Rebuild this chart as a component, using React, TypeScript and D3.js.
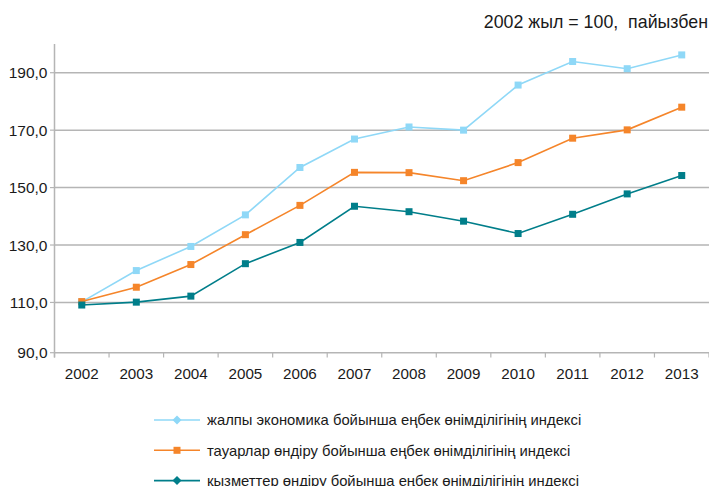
import React from "react";
import * as d3 from "d3";

const years = ["2002","2003","2004","2005","2006","2007","2008","2009","2010","2011","2012","2013"];
const economy = [110.2,121.1,129.5,140.5,157.0,166.9,171.1,170.0,185.7,193.9,191.4,196.2];
const goods = [110.3,115.3,123.2,133.6,143.8,155.3,155.2,152.4,158.7,167.2,170.1,178.0];
const services = [109.1,110.1,112.2,123.5,130.9,143.5,141.6,138.3,134.0,140.7,147.8,154.2];
const yTickValues = [92.5,110,130,150,170,190];
const yTickLabels = ["90,0","110,0","130,0","150,0","170,0","190,0"];
const seriesNames = [
  "жалпы экономика бойынша еңбек өнімділігінің индексі",
  "тауарлар өндіру бойынша еңбек өнімділігінің индексі",
  "қызметтер өндіру бойынша еңбек өнімділігінің индексі",
];
const subtitle = "2002 жыл = 100,\u00A0 пайызбен";

const W = 709, H = 486;
const FONT = "'Liberation Sans', Arial, sans-serif";

export default function App() {
  const x = d3.scaleBand<string>().domain(years).range([54.5, 709]);
  const y = d3.scaleLinear().domain([92.5, 200]).range([352.7, 44]);
  const cx = (yr: string) => (x(yr) as number) + x.bandwidth() / 2;
  const line = d3.line<number>().x((_, i) => cx(years[i])).y(d => y(d));
  const series = [
    { data: economy, color: "#8fd8f7", marker: "diamond" },
    { data: goods, color: "#f5852a", marker: "square" },
    { data: services, color: "#007e8a", marker: "diamond" },
  ];
  const ms = 7;
  const boundaries = years.map(yr => x(yr) as number).concat([709]);
  return (
    <svg width={W} height={H} style={{ position: "absolute", left: 0, top: 0, background: "#fff" }} fontFamily={FONT}>
      <rect width={W} height={H} fill="#fff" />
      <text x={708} y={28} textAnchor="end" fontSize={17.8} fill="#1a1a1a">{subtitle}</text>
      {yTickValues.map((v, i) => (
        <g key={v}>
          {i > 0 && <line x1={54.5} x2={709} y1={y(v)} y2={y(v)} stroke="#b5b5b5" strokeWidth={1.5} />}
          <line x1={50} x2={54.5} y1={y(v)} y2={y(v)} stroke="#b5b5b5" strokeWidth={1.2} />
          <text x={47.5} y={y(v)} dy="0.36em" textAnchor="end" fontSize={15.5} fill="#1a1a1a">{yTickLabels[i]}</text>
        </g>
      ))}
      <line x1={54.5} x2={54.5} y1={44} y2={357.5} stroke="#b5b5b5" strokeWidth={1.5} />
      <line x1={54.5} x2={709} y1={y(92.5)} y2={y(92.5)} stroke="#b5b5b5" strokeWidth={1.5} />
      {boundaries.map((b, i) => (
        <line key={i} x1={b} x2={b} y1={y(92.5)} y2={357.5} stroke="#b5b5b5" strokeWidth={1.2} />
      ))}
      {years.map(yr => (
        <text key={yr} x={cx(yr)} y={379} textAnchor="middle" fontSize={15.2} fill="#1a1a1a">{yr}</text>
      ))}
      {series.map((s, si) => (
        <g key={si}>
          <path d={line(s.data) as string} fill="none" stroke={s.color} strokeWidth={1.6} />
          {s.data.map((v, i) => (
            <rect key={i} x={cx(years[i]) - ms / 2} y={y(v) - ms / 2} width={ms} height={ms} fill={s.color} />
          ))}
        </g>
      ))}
      {series.map((s, si) => {
        const ly = 420 + si * 30.3;
        return (
          <g key={si}>
            <line x1={154} x2={200} y1={ly} y2={ly} stroke={s.color} strokeWidth={1.6} />
            {s.marker === "square" ? (
              <rect x={177 - 3.5} y={ly - 3.5} width={7} height={7} fill={s.color} />
            ) : (
              <path d={`M177,${ly - 4.5}L181.5,${ly}L177,${ly + 4.5}L172.5,${ly}Z`} fill={s.color} />
            )}
            <text x={207} y={ly} dy="0.36em" fontSize={14.8} fill="#1a1a1a">{seriesNames[si]}</text>
          </g>
        );
      })}
    </svg>
  );
}
